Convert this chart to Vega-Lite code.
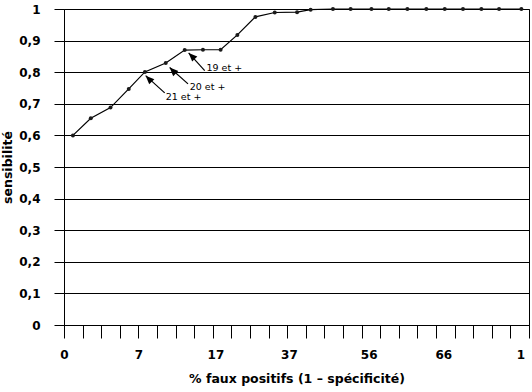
{
  "$schema": "https://vega.github.io/schema/vega-lite/v6.json",
  "width": 465,
  "height": 316,
  "autosize": {"type": "none"},
  "padding": {"left": 64, "top": 9, "right": 3, "bottom": 67},
  "background": "white",
  "config": {
    "font": "DejaVu Sans",
    "view": {"stroke": "black", "strokeWidth": 1},
    "axis": {
      "labelFont": "DejaVu Sans",
      "labelFontSize": 12,
      "labelFontWeight": "bold",
      "labelColor": "black",
      "titleFont": "DejaVu Sans",
      "titleFontSize": 12.5,
      "titleFontWeight": "bold",
      "titleColor": "black",
      "domainColor": "black",
      "tickColor": "black",
      "gridColor": "black",
      "gridOpacity": 1,
      "labelFlush": false,
      "labelOverlap": false
    },
    "axisY": {
      "values": [0,0.1,0.2,0.3,0.4,0.5,0.6,0.7,0.8,0.9,1],
      "tickCount": 11,
      "grid": true,
      "tickSize": 10,
      "labelPadding": 14,
      "titlePadding": 4,
      "labelExpr": "datum.value == 0 ? '0' : datum.value == 1 ? '1' : replace(format(datum.value, '.1f'), '.', ',')"
    }
  },
  "datasets": {
    "roc": [
      {"x": 0.48, "y": 0.600},
      {"x": 1.44, "y": 0.654},
      {"x": 2.5, "y": 0.688},
      {"x": 3.48, "y": 0.747},
      {"x": 4.35, "y": 0.801},
      {"x": 5.47, "y": 0.829},
      {"x": 6.49, "y": 0.870},
      {"x": 7.47, "y": 0.871},
      {"x": 8.42, "y": 0.871},
      {"x": 9.32, "y": 0.918},
      {"x": 10.29, "y": 0.975},
      {"x": 11.33, "y": 0.989},
      {"x": 12.53, "y": 0.990},
      {"x": 13.26, "y": 0.998},
      {"x": 14.46, "y": 1},
      {"x": 15.41, "y": 1},
      {"x": 16.53, "y": 1},
      {"x": 17.46, "y": 1},
      {"x": 18.46, "y": 1},
      {"x": 19.48, "y": 1},
      {"x": 20.47, "y": 1},
      {"x": 21.45, "y": 1},
      {"x": 22.44, "y": 1},
      {"x": 23.39, "y": 1},
      {"x": 24.59, "y": 1}
    ],
    "notes": [
      {"x0": 7.565, "y0": 0.805, "xt": 6.70, "yt": 0.861, "tx": 7.66, "ty": 0.8135, "label": "19 et +"},
      {"x0": 6.667, "y0": 0.763, "xt": 5.68, "yt": 0.815, "tx": 6.76, "ty": 0.752, "label": "20 et +"},
      {"x0": 5.414, "y0": 0.7345, "xt": 4.39, "yt": 0.789, "tx": 5.47, "ty": 0.7206, "label": "21 et +"}
    ]
  },
  "layer": [
    {
      "data": {"name": "roc"},
      "mark": {"type": "line", "color": "black", "strokeWidth": 1.2},
      "encoding": {
        "x": {
          "field": "x", "type": "quantitative",
          "scale": {"domain": [0, 25], "nice": false, "zero": false},
          "axis": {
            "orient": "bottom",
            "values": [0,1,2,3,4,5,6,7,8,9,10,11,12,13,14,15,16,17,18,19,20,21,22,23,24,25],
            "labels": false, "grid": false, "tickSize": 13, "title": null
          }
        },
        "y": {
          "field": "y", "type": "quantitative",
          "scale": {"domain": [0, 1], "nice": false},
          "title": "sensibilité"
        }
      }
    },
    {
      "data": {"name": "roc"},
      "mark": {"type": "point", "filled": true, "shape": "circle", "size": 16, "color": "#1a1a1a", "opacity": 1},
      "encoding": {
        "x": {
          "field": "x", "type": "quantitative",
          "axis": {
            "orient": "bottom",
            "values": [0, 4.0, 8.14, 12.09, 16.38, 20.39, 24.54],
            "labelExpr": "datum.value < 1 ? '0' : datum.value < 6 ? '7' : datum.value < 10 ? '17' : datum.value < 14 ? '37' : datum.value < 18 ? '56' : datum.value < 22 ? '66' : '1'",
            "ticks": false, "tickSize": 0, "domain": false, "grid": false,
            "labelPadding": 24,
            "title": "% faux positifs (1 – spécificité)", "titlePadding": 12
          }
        },
        "y": {"field": "y", "type": "quantitative", "title": "sensibilité"}
      }
    },
    {
      "data": {"name": "notes"},
      "mark": {"type": "rule", "color": "black", "strokeWidth": 1.2},
      "encoding": {
        "x": {"field": "x0", "type": "quantitative", "axis": null},
        "x2": {"field": "xt"},
        "y": {"field": "y0", "type": "quantitative", "title": "sensibilité"},
        "y2": {"field": "yt"}
      }
    },
    {
      "data": {"name": "notes"},
      "mark": {"type": "point", "filled": true, "shape": "M0,0L-0.42,1L0.42,1Z", "size": 300, "angle": 315, "color": "black", "opacity": 1},
      "encoding": {
        "x": {"field": "xt", "type": "quantitative", "axis": null},
        "y": {"field": "yt", "type": "quantitative", "title": "sensibilité"}
      }
    },
    {
      "data": {"name": "notes"},
      "mark": {"type": "text", "align": "left", "baseline": "middle", "fontSize": 9.5, "font": "DejaVu Sans", "color": "black"},
      "encoding": {
        "x": {"field": "tx", "type": "quantitative", "axis": null},
        "y": {"field": "ty", "type": "quantitative", "title": "sensibilité"},
        "text": {"field": "label"}
      }
    }
  ],
  "resolve": {"axis": {"x": "independent"}}
}
